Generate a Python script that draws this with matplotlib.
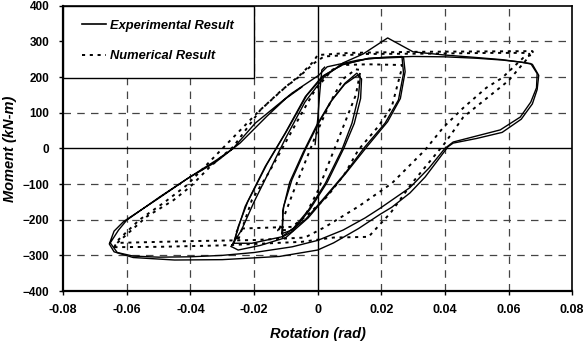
import matplotlib.pyplot as plt
from matplotlib.patches import Rectangle
from matplotlib.lines import Line2D

# Experimental hysteresis -- small cycles (two passes)
exp_rot_small1 = [-0.0113, -0.0107, -0.0081, -0.0039, 0.0003, 0.0045, 0.0086, 0.0123, 0.0134,
                  0.0128, 0.0108, 0.0076, 0.0024, -0.0029, -0.0081, -0.0113]
exp_mom_small1 = [-239, -163, -88, -4, 71, 136, 183, 211, 201,
                  145, 71, -4, -98, -173, -229, -239]
exp_rot_small2 = [-0.0110, -0.0110, -0.0088, -0.0045, -0.0003, 0.0040, 0.0085, 0.0125, 0.0138,
                  0.0135, 0.0115, 0.0082, 0.0030, -0.0025, -0.0078, -0.0110]
exp_mom_small2 = [-248, -175, -95, -10, 65, 130, 180, 205, 195,
                  140, 70, 0, -95, -172, -232, -248]
exp_rot_init = [-0.0008, 0.0, 0.0006, 0.0013, 0.0022]
exp_mom_init = [11, 80, 150, 220, 228]

# Experimental -- medium cycles (two passes)
exp_rot_med1 = [-0.0265, -0.0228, -0.0165, -0.0102, -0.0039, 0.0013, 0.0076, 0.0160, 0.0265,
                0.0270, 0.0254, 0.0212, 0.0149, 0.0086, 0.0024, -0.0039, -0.0113, -0.0207, -0.0265]
exp_mom_med1 = [-266, -163, -51, 43, 145, 201, 234, 253, 258,
                211, 136, 71, 5, -70, -135, -200, -248, -266, -266]
exp_rot_med2 = [-0.0262, -0.0250, -0.0220, -0.0160, -0.0098, -0.0035, 0.0020, 0.0080, 0.0160,
                0.0270, 0.0275, 0.0260, 0.0220, 0.0155, 0.0090, 0.0030, -0.0030, -0.0100, -0.0180,
                -0.0250, -0.0272, -0.0262]
exp_mom_med2 = [-262, -220, -150, -45, 48, 148, 205, 236, 252,
                256, 215, 140, 75, 5, -68, -132, -195, -250, -272,
                -285, -275, -262]

# Experimental -- large cycles
exp_rot_big1 = [-0.0272, -0.0240, -0.0200, -0.0150, -0.0100, -0.0040, 0.0020, 0.0080, 0.0143,
                0.0220, 0.0300, 0.0400, 0.0500, 0.0580, 0.0640, 0.0670, 0.0690, 0.0688, 0.0670,
                0.0637, 0.0574, 0.0500, 0.0426, 0.0400, 0.0350, 0.0290, 0.0196, 0.0149, 0.0080,
                0.0, -0.0080, -0.0200, -0.0300, -0.0400, -0.0500, -0.0580, -0.0630, -0.0652]
exp_mom_big1 = [-275, -230, -150, -60, 30, 130, 200, 240, 265,
                310, 271, 262, 255, 249, 242, 238, 210, 170, 130,
                88, 52, 35, 18, 0, -55, -110, -168, -195, -229,
                -258, -276, -292, -300, -304, -305, -302, -292, -265]
exp_rot_big2 = [-0.0652, -0.0626, -0.0600, -0.0495, -0.0400, -0.0317, -0.0266, -0.0196, -0.0081,
                0.0003, 0.0030, 0.0128, 0.0200, 0.0300, 0.0400, 0.0500, 0.0580, 0.0640, 0.0675,
                0.0695, 0.0690, 0.0675, 0.0640, 0.0580, 0.0500, 0.0426, 0.0410, 0.0338, 0.0290,
                0.0233, 0.0196, 0.0128, 0.0050, 0.0, -0.0120, -0.0300, -0.0450, -0.0580, -0.0640,
                -0.0655, -0.0640, -0.0610, -0.0500, -0.0410, -0.0320, -0.0244, -0.0160, -0.0100,
                -0.0050]
exp_mom_big2 = [-265, -229, -201, -135, -79, -32, 0, 71, 155,
                205, 229, 248, 255, 258, 257, 253, 248, 242, 236,
                205, 165, 125, 82, 45, 28, 15, 5, -80, -125,
                -165, -185, -225, -265, -285, -303, -312, -313, -306, -290,
                -268, -232, -205, -140, -85, -38, 15, 90, 140,
                172]

# Numerical model response
num_rot_small = [-0.0120, -0.0080, -0.0040, 0.0, 0.0040, 0.0080, 0.0120, 0.0135, 0.0120, 0.0080,
                 0.0040, 0.0, -0.0040, -0.0080, -0.0125, -0.0120]
num_mom_small = [-225, -130, -40, 50, 130, 195, 222, 220, 150, 60,
                 -30, -120, -190, -228, -230, -225]

num_rot_med = [-0.0249, -0.0207, -0.0155, -0.0102, -0.0050, -0.0008, 0.0045, 0.0076, 0.0160,
               0.0265, 0.0265, 0.0233, 0.0190, 0.0128, 0.0086, 0.0030, -0.0030, -0.0081, -0.0150,
               -0.0250, -0.0260, -0.0249]
num_mom_med = [-255, -145, -70, 15, 99, 164, 220, 234, 236,
               234, 226, 117, 61, -4, -70, -135, -185, -220, -222,
               -225, -245, -255]

num_rot_big1 = [-0.0630, -0.0620, -0.0537, -0.0453, -0.0400, -0.0338, -0.0265, -0.0180, -0.0100,
                -0.0055, -0.0014, 0.0, 0.0100, 0.0300, 0.0500, 0.0675, 0.0680, 0.0646, 0.0580,
                0.0530, 0.0458, 0.0396, 0.0338, 0.0233, 0.0128, 0.0024, -0.0040, -0.0200, -0.0400,
                -0.0630]
num_mom_big1 = [-265, -257, -191, -145, -107, -51, 5, 108, 173,
                206, 243, 262, 268, 271, 272, 273, 265, 254, 198,
                170, 114, 60, -4, -98, -163, -220, -250, -257, -260,
                -265]
num_rot_big2 = [-0.0640, -0.0625, -0.0560, -0.0480, -0.0410, -0.0310, -0.0190, -0.0110, -0.0060,
                -0.0010, 0.0020, 0.0150, 0.0350, 0.0550, 0.0665, 0.0665, 0.0600, 0.0458, 0.0400,
                0.0296, 0.0230, 0.0160, 0.0050, -0.0050, -0.0300, -0.0500, -0.0640]
num_mom_big2 = [-277, -255, -200, -150, -102, -10, 100, 166, 200,
                240, 258, 265, 266, 268, 268, 258, 190, 88, 15,
                -98, -180, -248, -250, -262, -272, -276, -277]

exp_curves = [(exp_rot_init, exp_mom_init), (exp_rot_small1, exp_mom_small1),
              (exp_rot_small2, exp_mom_small2), (exp_rot_med1, exp_mom_med1),
              (exp_rot_med2, exp_mom_med2), (exp_rot_big1, exp_mom_big1),
              (exp_rot_big2, exp_mom_big2)]
num_curves = [(num_rot_small, num_mom_small), (num_rot_med, num_mom_med),
              (num_rot_big1, num_mom_big1), (num_rot_big2, num_mom_big2)]

x_ticks = [-0.08, -0.06, -0.04, -0.02, 0, 0.02, 0.04, 0.06, 0.08]
x_tick_labels = ["-0.08", "-0.06", "-0.04", "-0.02", "0", "0.02", "0.04", "0.06", "0.08"]
y_ticks = [-400, -300, -200, -100, 0, 100, 200, 300, 400]
series_names = ["Experimental Result", "Numerical Result"]

plt.rcParams["font.family"] = ["Liberation Sans", "DejaVu Sans"]
plt.rcParams["font.weight"] = "bold"

fig = plt.figure(figsize=(5.85, 3.44), dpi=100)
ax = fig.add_axes([0.108, 0.154, 0.870, 0.829])

grid_style = dict(color="#444444", lw=0.9, dashes=(6, 5), zorder=1)
for xv in x_ticks[1:-1]:
    if xv == 0:
        ax.axvline(xv, color="black", lw=1.0, zorder=1)
    else:
        ax.axvline(xv, **grid_style)
for yv in y_ticks[1:-1]:
    if yv == 0:
        ax.axhline(yv, color="black", lw=1.0, zorder=1)
    else:
        ax.axhline(yv, **grid_style)

for rot, mom in exp_curves:
    ax.plot(rot, mom, color="black", lw=1.0, solid_joinstyle="round", zorder=3)
for rot, mom in num_curves:
    ax.plot(rot, mom, color="black", lw=1.4, dashes=(1.6, 2.4), zorder=2)

ax.set_xlim(-0.08, 0.08)
ax.set_ylim(-400, 400)
ax.set_xticks(x_ticks)
ax.set_xticklabels(x_tick_labels)
ax.set_yticks(y_ticks)
ax.tick_params(direction="out", length=3, width=1)
ax.tick_params(axis="x", labelsize=9, pad=6)
ax.tick_params(axis="y", labelsize=8.5, pad=7)
for side in ["left", "bottom"]:
    ax.spines[side].set_linewidth(1.6)
for side in ["top", "right"]:
    ax.spines[side].set_linewidth(1.2)

ax.set_xlabel("Rotation (rad)", fontsize=10.5, fontweight="bold", fontstyle="italic", labelpad=8)
ax.set_ylabel("Moment (kN-m)", fontsize=10.5, fontweight="bold", fontstyle="italic", labelpad=4)

# legend box in the upper-left corner of the plot area
ax.add_patch(Rectangle((0.0, 0.747), 0.375, 0.253, transform=ax.transAxes,
                       facecolor="white", edgecolor="black", lw=1.0, zorder=5))
handles = [Line2D([], [], color="black", lw=1.2),
           Line2D([], [], color="black", lw=1.4, dashes=(1.6, 2.4))]
leg = ax.legend(handles, series_names, loc="center left", bbox_to_anchor=(0.037, 0.877),
                borderaxespad=0, borderpad=0, frameon=False, labelspacing=1.45,
                handlelength=1.85, handletextpad=0.3,
                prop=dict(family=["Liberation Sans"], weight="bold", style="italic", size=9.3))
leg.set_zorder(6)

fig.savefig("out.png", dpi=100)
